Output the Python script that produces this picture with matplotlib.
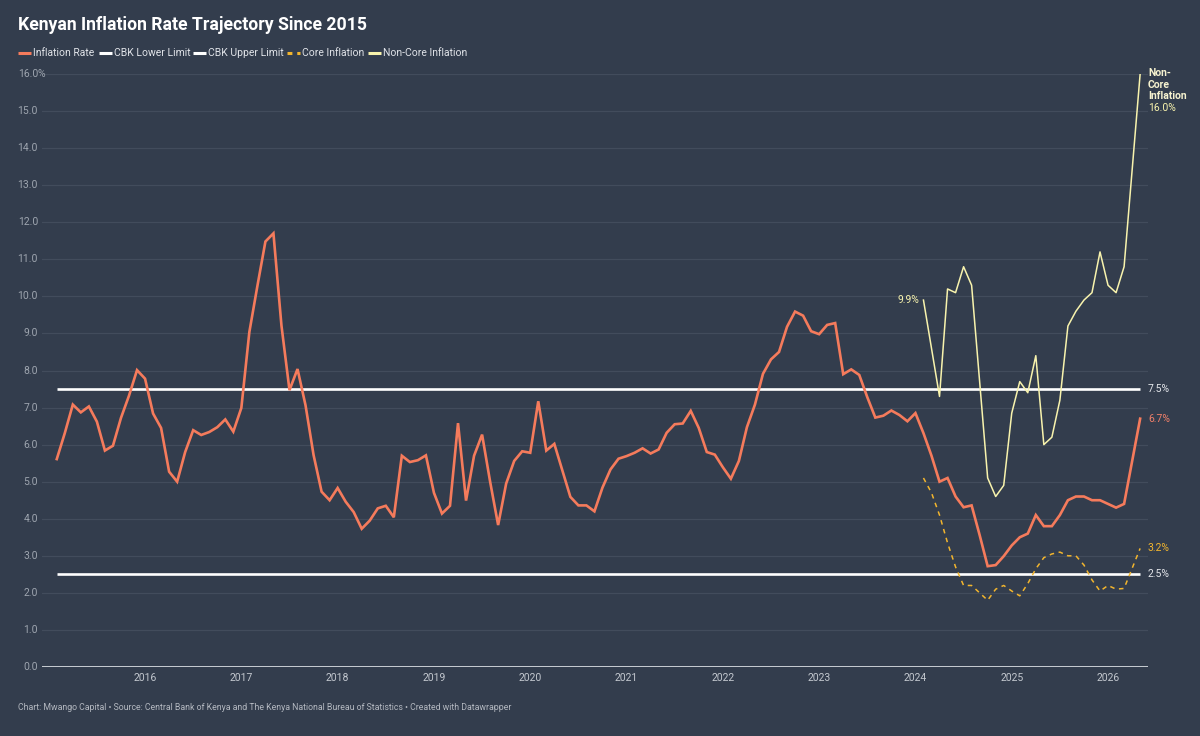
import matplotlib.pyplot as plt
import matplotlib.transforms as mtransforms
import pandas as pd

# monthly headline inflation, Feb 2015 .. Mar 2026 plus May 2026
months_all = list(pd.date_range("2015-02-01", "2026-03-01", freq="MS")) + [pd.Timestamp("2026-05-01")]
inflation = [
    5.61, 6.31, 7.08, 6.87, 7.03, 6.62, 5.84, 5.97, 6.72, 7.32, 8.01,
    7.78, 6.84, 6.45, 5.27, 5.00, 5.80, 6.39, 6.26, 6.34, 6.47, 6.68, 6.35,
    6.99, 9.04, 10.28, 11.48, 11.70, 9.21, 7.47, 8.04, 7.06, 5.72, 4.73, 4.50,
    4.83, 4.46, 4.18, 3.73, 3.95, 4.28, 4.35, 4.04, 5.70, 5.53, 5.58, 5.71,
    4.70, 4.14, 4.35, 6.58, 4.49, 5.70, 6.27, 5.00, 3.83, 4.95, 5.56, 5.82,
    5.78, 7.17, 5.84, 6.02, 5.30, 4.59, 4.36, 4.36, 4.20, 4.84, 5.33, 5.62,
    5.69, 5.78, 5.90, 5.76, 5.87, 6.32, 6.55, 6.57, 6.91, 6.45, 5.80, 5.73,
    5.39, 5.08, 5.56, 6.47, 7.08, 7.91, 8.30, 8.50, 9.18, 9.59, 9.48, 9.06,
    8.98, 9.23, 9.28, 7.90, 8.03, 7.88, 7.28, 6.73, 6.78, 6.92, 6.80, 6.63,
    6.85, 6.31, 5.70, 5.00, 5.10, 4.60, 4.31, 4.36, 3.56, 2.72, 2.75, 2.99,
    3.28, 3.50, 3.60, 4.10, 3.80, 3.80, 4.10, 4.50, 4.60, 4.60, 4.50, 4.50,
    4.40, 4.30, 4.40, 6.70,
]

# core / non-core, Feb 2024 .. Mar 2026 plus May 2026
months_split = list(pd.date_range("2024-02-01", "2026-03-01", freq="MS")) + [pd.Timestamp("2026-05-01")]
core = [
    5.10, 4.70, 4.10, 3.35, 2.70, 2.20, 2.20, 2.00, 1.80, 2.10, 2.20,
    2.05, 1.92, 2.25, 2.65, 2.95, 3.05, 3.10, 3.00, 3.00, 2.75, 2.35, 2.05,
    2.20, 2.10, 2.12, 3.20,
]
non_core = [
    9.90, 8.60, 7.30, 10.20, 10.10, 10.80, 10.30, 7.70, 5.10, 4.60, 4.90,
    6.85, 7.70, 7.40, 8.40, 6.00, 6.20, 7.20, 9.20, 9.60, 9.90, 10.10, 11.20,
    10.30, 10.10, 10.80, 16.00,
]
cbk_lower = 2.5
cbk_upper = 7.5
years = list(range(2016, 2027))
y_ticks = list(range(0, 17))

BG = "#333d4d"
GRID = "#424c5c"
RED = "#f57b5c"
GOLD = "#f2b52e"
PALE = "#f8f3ad"


def to_year(dates):
    return [d.year + (d.month - 1) / 12 for d in dates]


x_all = to_year(months_all)
x_split = to_year(months_split)

plt.rcParams["font.family"] = ["Roboto", "DejaVu Sans"]

fig = plt.figure(figsize=(12, 7.36), dpi=100, facecolor=BG)
ax = fig.add_axes([42 / 1200, 1 - 667 / 736, (1148 - 42) / 1200, (667 - 74) / 736])
ax.set_facecolor(BG)
ax.set_xlim(2014.930, 2026.415)
ax.set_ylim(0, 16)
for s in ax.spines.values():
    s.set_visible(False)
ax.set_xticks([])
ax.set_yticks([])

# overlay in pixel coordinates for texts and legend
ov = fig.add_axes([0, 0, 1, 1])
ov.set_xlim(0, 1200)
ov.set_ylim(736, 0)
ov.axis("off")
ov.patch.set_alpha(0)

px_y = mtransforms.blended_transform_factory(ov.transData, ax.transData)
x_px = mtransforms.blended_transform_factory(ax.transData, ov.transData)

for v in y_ticks[1:]:
    ax.axhline(v, color=GRID, lw=0.9, zorder=0)
ax.axhline(0, color="#c9cdd3", lw=1.4, zorder=1)

for v in y_ticks:
    ov.text(38, v, f"{v:.1f}", transform=px_y, ha="right", va="center",
            fontsize=7.5, color="#9ea5af")
ov.text(38, 16, "%", transform=px_y, ha="left", va="center", fontsize=7.5, color="#9ea5af")

for yr in years:
    ov.text(yr, 678, str(yr), transform=x_px, ha="center", va="center",
            fontsize=7.5, color="#c3c8cf")

# lines
ax.hlines([cbk_upper, cbk_lower], x_all[0], x_all[-1], color="white", lw=1.9, zorder=3)
ax.plot(x_all, inflation, color=RED, lw=1.9, zorder=4, solid_joinstyle="miter")
ax.plot(x_split, non_core, color=PALE, lw=1.1, zorder=4)
ax.plot(x_split, core, color=GOLD, lw=1.1, ls=(0, (3, 3)), zorder=4)

# end labels
ov.text(1148, cbk_upper, "7.5%", transform=px_y, va="center", fontsize=7.5, color="#e4e6ea")
ov.text(1148, cbk_lower, "2.5%", transform=px_y, va="center", fontsize=7.5, color="#e4e6ea")
ov.text(1148, inflation[-1], f"{inflation[-1]:.1f}%", transform=px_y, va="center",
        fontsize=7.5, color="#f0806a")
ov.text(1148, core[-1], f"{core[-1]:.1f}%", transform=px_y, va="center",
        fontsize=7.5, color=GOLD)
ov.text(919, non_core[0], f"{non_core[0]:.1f}%", transform=px_y, ha="right", va="center",
        fontsize=7.5, color=PALE)
ov.text(1148, 68, "Non-\nCore\nInflation", va="top", fontsize=7.5, fontweight="bold",
        color="#f6f2cf", linespacing=1.2)
ov.text(1148, 108, f"{non_core[-1]:.1f}%", va="center", fontsize=7.5, color=PALE)

# title, legend, footer
ov.text(18, 25, "Kenyan Inflation Rate Trajectory Since 2015", va="center",
        fontsize=12.7, fontweight="bold", color="white")

legend = [
    ("Inflation Rate", RED, "-", 18),
    ("CBK Lower Limit", "white", "-", 99),
    ("CBK Upper Limit", "white", "-", 193),
    ("Core Inflation", GOLD, (0, (1.6, 1.6)), 287),
    ("Non-Core Inflation", PALE, "-", 368),
]
for label, col, ls, x0 in legend:
    ov.plot([x0, x0 + 13], [53, 53], color=col, lw=2.2, ls=ls, solid_capstyle="butt")
    ov.text(x0 + 15, 53, label, va="center", fontsize=7.5, color="#e0e3e8")

ov.text(18, 708, "Chart: Mwango Capital \u2022 Source: Central Bank of Kenya and The Kenya "
        "National Bureau of Statistics \u2022 Created with Datawrapper",
        va="center", fontsize=6.3, color="#b3b8c0")

fig.savefig("out.png", dpi=100, facecolor=BG)
